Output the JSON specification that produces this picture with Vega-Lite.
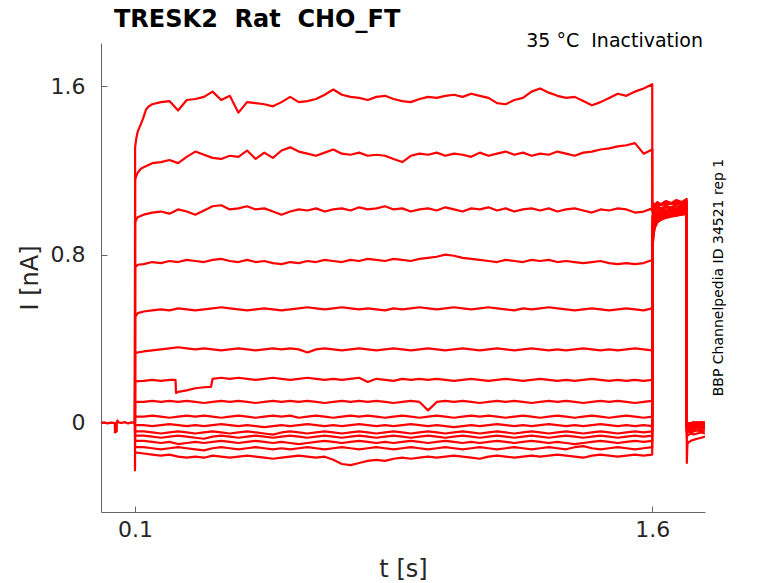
{
  "$schema": "https://vega.github.io/schema/vega-lite/v6.json",
  "width": 604,
  "height": 469,
  "autosize": {"type": "none"},
  "padding": {"left": 101, "top": 43, "right": 73, "bottom": 71},
  "config": {"view": {"stroke": null}, "font": "DejaVu Sans"},
  "layer": [
    {
      "data": {"values": [
        {"t":0.0014,"a":0},{"t":0.01,"a":0.003},{"t":0.02,"a":-0.002},{"t":0.03,"a":0.002},{"t":0.0415,"a":0},{"t":0.042,"a":-0.045},{"t":0.047,"a":-0.04},{"t":0.0473,"a":0.004},{"t":0.049,"a":0.012},{"t":0.052,"a":0.003},{"t":0.06,"a":0},{"t":0.07,"a":0.004},{"t":0.08,"a":-0.002},{"t":0.09,"a":0.003},
        {"t":0.0999,"a":0,"b":0,"c":0,"d":0,"e":0,"f":0,"g":0,"h":0,"i":0,"j":0,"k":0,"l":0,"m":0,"n":0,"o":0},
        {"t":0.1,"o":-0.225},
        {"t":0.1003,"a":1.31,"b":1.157,"c":0.955,"d":0.74,"e":0.505,"f":0.333,"g":0.198,"h":0.1,"i":0.03,"j":-0.01,"k":-0.04,"l":-0.06,"m":-0.085,"n":-0.115,"o":-0.14},
        {"t":0.104,"a":1.355,"b":1.175,"c":0.968},
        {"t":0.108,"a":1.385,"b":1.19,"c":0.978,"d":0.752,"e":0.522},
        {"t":0.113,"a":1.405,"b":1.2},
        {"t":0.118,"a":1.425,"b":1.21,"c":0.985},
        {"t":0.123,"a":1.445},
        {"t":0.132,"a":1.49},
        {"t":0.14,"a":1.505},
        {"t":0.2175,"g":0.205},
        {"t":0.219,"g":0.143},
        {"t":0.3205,"g":0.172},
        {"t":0.125,"a":1.455,"b":1.215,"c":0.99,"d":0.755,"e":0.53,"f":0.34,"g":0.2,"h":0.1,"i":0.03,"j":-0.01,"k":-0.04,"l":-0.06,"m":-0.085,"n":-0.115,"o":-0.145},
        {"t":0.15,"a":1.515,"b":1.235,"c":1.0,"d":0.765,"e":0.535,"f":0.345,"g":0.205,"h":0.105,"i":0.035,"j":-0.015,"k":-0.045,"l":-0.065,"m":-0.09,"n":-0.12,"o":-0.15},
        {"t":0.175,"a":1.525,"b":1.24,"c":1.005,"d":0.76,"e":0.54,"f":0.35,"g":0.2,"h":0.1,"i":0.03,"j":-0.01,"k":-0.05,"l":-0.07,"m":-0.095,"n":-0.125,"o":-0.155},
        {"t":0.2,"a":1.53,"b":1.25,"c":0.995,"d":0.77,"e":0.535,"f":0.355,"g":0.205,"h":0.105,"i":0.025,"j":-0.005,"k":-0.045,"l":-0.065,"m":-0.09,"n":-0.12,"o":-0.15},
        {"t":0.225,"a":1.485,"b":1.235,"c":1.015,"d":0.765,"e":0.545,"f":0.36,"g":0.148,"h":0.1,"i":0.03,"j":-0.01,"k":-0.04,"l":-0.06,"m":-0.1,"n":-0.115,"o":-0.16},
        {"t":0.25,"a":1.535,"b":1.265,"c":1.005,"d":0.775,"e":0.54,"f":0.355,"g":0.155,"h":0.105,"i":0.035,"j":-0.015,"k":-0.045,"l":-0.065,"m":-0.095,"n":-0.12,"o":-0.165},
        {"t":0.275,"a":1.54,"b":1.29,"c":0.99,"d":0.77,"e":0.535,"f":0.35,"g":0.165,"h":0.1,"i":0.03,"j":-0.01,"k":-0.05,"l":-0.07,"m":-0.09,"n":-0.125,"o":-0.16},
        {"t":0.3,"a":1.55,"b":1.275,"c":1.01,"d":0.765,"e":0.54,"f":0.355,"g":0.17,"h":0.095,"i":0.035,"j":-0.015,"k":-0.045,"l":-0.075,"m":-0.095,"n":-0.13,"o":-0.165},
        {"t":0.325,"a":1.575,"b":1.26,"c":1.03,"d":0.775,"e":0.545,"f":0.35,"g":0.21,"h":0.1,"i":0.03,"j":-0.01,"k":-0.04,"l":-0.065,"m":-0.09,"n":-0.12,"o":-0.155},
        {"t":0.35,"a":1.535,"b":1.255,"c":1.035,"d":0.78,"e":0.55,"f":0.345,"g":0.215,"h":0.105,"i":0.025,"j":-0.005,"k":-0.045,"l":-0.06,"m":-0.085,"n":-0.115,"o":-0.16},
        {"t":0.375,"a":1.555,"b":1.27,"c":1.015,"d":0.77,"e":0.545,"f":0.35,"g":0.21,"h":0.1,"i":0.03,"j":-0.01,"k":-0.05,"l":-0.065,"m":-0.09,"n":-0.12,"o":-0.165},
        {"t":0.4,"a":1.475,"b":1.265,"c":1.02,"d":0.765,"e":0.54,"f":0.355,"g":0.215,"h":0.105,"i":0.035,"j":-0.015,"k":-0.045,"l":-0.07,"m":-0.095,"n":-0.125,"o":-0.16},
        {"t":0.425,"a":1.525,"b":1.295,"c":1.03,"d":0.775,"e":0.535,"f":0.35,"g":0.21,"h":0.1,"i":0.03,"j":-0.01,"k":-0.04,"l":-0.065,"m":-0.09,"n":-0.12,"o":-0.155},
        {"t":0.45,"a":1.52,"b":1.255,"c":1.015,"d":0.765,"e":0.54,"f":0.345,"g":0.205,"h":0.095,"i":0.025,"j":-0.015,"k":-0.045,"l":-0.06,"m":-0.085,"n":-0.115,"o":-0.16},
        {"t":0.475,"a":1.515,"b":1.285,"c":1.02,"d":0.77,"e":0.545,"f":0.35,"g":0.21,"h":0.1,"i":0.03,"j":-0.02,"k":-0.05,"l":-0.065,"m":-0.09,"n":-0.12,"o":-0.165},
        {"t":0.5,"a":1.505,"b":1.26,"c":1.005,"d":0.76,"e":0.54,"f":0.355,"g":0.215,"h":0.105,"i":0.035,"j":-0.015,"k":-0.055,"l":-0.07,"m":-0.095,"n":-0.125,"o":-0.17},
        {"t":0.525,"a":1.525,"b":1.295,"c":0.99,"d":0.755,"e":0.535,"f":0.35,"g":0.21,"h":0.1,"i":0.03,"j":-0.01,"k":-0.045,"l":-0.065,"m":-0.09,"n":-0.12,"o":-0.165},
        {"t":0.55,"a":1.55,"b":1.31,"c":1.005,"d":0.765,"e":0.54,"f":0.355,"g":0.205,"h":0.105,"i":0.035,"j":-0.015,"k":-0.04,"l":-0.06,"m":-0.095,"n":-0.125,"o":-0.16},
        {"t":0.575,"a":1.525,"b":1.29,"c":1.015,"d":0.76,"e":0.545,"f":0.35,"g":0.21,"h":0.1,"i":0.025,"j":-0.01,"k":-0.045,"l":-0.065,"m":-0.1,"n":-0.12,"o":-0.155},
        {"t":0.6,"a":1.53,"b":1.28,"c":1.01,"d":0.77,"e":0.55,"f":0.335,"g":0.215,"h":0.105,"i":0.03,"j":-0.005,"k":-0.05,"l":-0.07,"m":-0.095,"n":-0.115,"o":-0.16},
        {"t":0.625,"a":1.54,"b":1.27,"c":1.02,"d":0.765,"e":0.545,"f":0.35,"g":0.21,"h":0.1,"i":0.035,"j":-0.01,"k":-0.045,"l":-0.065,"m":-0.09,"n":-0.12,"o":-0.165},
        {"t":0.65,"a":1.56,"b":1.285,"c":1.005,"d":0.775,"e":0.54,"f":0.355,"g":0.205,"h":0.095,"i":0.03,"j":-0.015,"k":-0.04,"l":-0.06,"m":-0.085,"n":-0.125,"o":-0.16},
        {"t":0.675,"a":1.585,"b":1.3,"c":1.015,"d":0.77,"e":0.545,"f":0.35,"g":0.21,"h":0.1,"i":0.025,"j":-0.01,"k":-0.045,"l":-0.065,"m":-0.09,"n":-0.12,"o":-0.175},
        {"t":0.7,"a":1.56,"b":1.28,"c":1.02,"d":0.765,"e":0.55,"f":0.345,"g":0.205,"h":0.105,"i":0.03,"j":-0.015,"k":-0.05,"l":-0.07,"m":-0.095,"n":-0.115,"o":-0.195},
        {"t":0.725,"a":1.55,"b":1.275,"c":1.01,"d":0.775,"e":0.545,"f":0.35,"g":0.21,"h":0.1,"i":0.035,"j":-0.01,"k":-0.045,"l":-0.065,"m":-0.09,"n":-0.12,"o":-0.2},
        {"t":0.75,"a":1.545,"b":1.285,"c":1.025,"d":0.77,"e":0.54,"f":0.355,"g":0.215,"h":0.105,"i":0.03,"j":-0.005,"k":-0.04,"l":-0.06,"m":-0.085,"n":-0.125,"o":-0.19},
        {"t":0.775,"a":1.535,"b":1.27,"c":1.015,"d":0.78,"e":0.545,"f":0.35,"g":0.195,"h":0.1,"i":0.035,"j":-0.01,"k":-0.045,"l":-0.065,"m":-0.09,"n":-0.12,"o":-0.18},
        {"t":0.8,"a":1.55,"b":1.275,"c":1.02,"d":0.775,"e":0.54,"f":0.345,"g":0.21,"h":0.105,"i":0.03,"j":-0.015,"k":-0.05,"l":-0.07,"m":-0.095,"n":-0.115,"o":-0.175},
        {"t":0.825,"a":1.555,"b":1.27,"c":1.03,"d":0.77,"e":0.535,"f":0.35,"g":0.205,"h":0.1,"i":0.025,"j":-0.01,"k":-0.045,"l":-0.065,"m":-0.09,"n":-0.12,"o":-0.18},
        {"t":0.85,"a":1.54,"b":1.255,"c":1.015,"d":0.78,"e":0.545,"f":0.355,"g":0.2,"h":0.095,"i":0.03,"j":-0.015,"k":-0.04,"l":-0.06,"m":-0.095,"n":-0.125,"o":-0.17},
        {"t":0.875,"a":1.53,"b":1.24,"c":1.02,"d":0.775,"e":0.54,"f":0.35,"g":0.21,"h":0.1,"i":0.035,"j":-0.01,"k":-0.045,"l":-0.065,"m":-0.09,"n":-0.12,"o":-0.165},
        {"t":0.9,"a":1.525,"b":1.27,"c":1.005,"d":0.77,"e":0.545,"f":0.345,"g":0.205,"h":0.105,"i":0.03,"j":-0.005,"k":-0.05,"l":-0.07,"m":-0.085,"n":-0.115,"o":-0.17},
        {"t":0.925,"a":1.54,"b":1.28,"c":1.015,"d":0.78,"e":0.55,"f":0.35,"g":0.21,"h":0.1,"i":0.025,"j":-0.01,"k":-0.045,"l":-0.065,"m":-0.09,"n":-0.12,"o":-0.165},
        {"t":0.95,"a":1.55,"b":1.275,"c":1.02,"d":0.785,"e":0.545,"f":0.355,"g":0.205,"h":0.06,"i":0.03,"j":-0.015,"k":-0.04,"l":-0.06,"m":-0.095,"n":-0.125,"o":-0.16},
        {"t":0.975,"a":1.545,"b":1.285,"c":1.01,"d":0.79,"e":0.54,"f":0.35,"g":0.21,"h":0.1,"i":0.035,"j":-0.01,"k":-0.045,"l":-0.065,"m":-0.09,"n":-0.12,"o":-0.165},
        {"t":1.0,"a":1.555,"b":1.27,"c":1.025,"d":0.8,"e":0.545,"f":0.345,"g":0.205,"h":0.105,"i":0.03,"j":-0.015,"k":-0.05,"l":-0.07,"m":-0.085,"n":-0.115,"o":-0.16},
        {"t":1.025,"a":1.56,"b":1.28,"c":1.015,"d":0.795,"e":0.55,"f":0.35,"g":0.2,"h":0.1,"i":0.025,"j":-0.02,"k":-0.045,"l":-0.065,"m":-0.09,"n":-0.12,"o":-0.155},
        {"t":1.05,"a":1.55,"b":1.275,"c":1.005,"d":0.785,"e":0.545,"f":0.355,"g":0.205,"h":0.105,"i":0.03,"j":-0.015,"k":-0.04,"l":-0.06,"m":-0.095,"n":-0.125,"o":-0.16},
        {"t":1.075,"a":1.565,"b":1.265,"c":1.02,"d":0.78,"e":0.54,"f":0.35,"g":0.21,"h":0.1,"i":0.035,"j":-0.01,"k":-0.045,"l":-0.065,"m":-0.09,"n":-0.12,"o":-0.165},
        {"t":1.1,"a":1.555,"b":1.285,"c":1.015,"d":0.775,"e":0.545,"f":0.345,"g":0.205,"h":0.095,"i":0.03,"j":-0.015,"k":-0.05,"l":-0.07,"m":-0.095,"n":-0.115,"o":-0.17},
        {"t":1.125,"a":1.545,"b":1.27,"c":1.025,"d":0.77,"e":0.55,"f":0.35,"g":0.2,"h":0.1,"i":0.035,"j":-0.01,"k":-0.045,"l":-0.065,"m":-0.09,"n":-0.12,"o":-0.16},
        {"t":1.15,"a":1.52,"b":1.28,"c":1.01,"d":0.765,"e":0.545,"f":0.355,"g":0.205,"h":0.105,"i":0.03,"j":-0.005,"k":-0.04,"l":-0.06,"m":-0.085,"n":-0.125,"o":-0.155},
        {"t":1.175,"a":1.515,"b":1.29,"c":1.02,"d":0.775,"e":0.54,"f":0.35,"g":0.21,"h":0.1,"i":0.025,"j":-0.01,"k":-0.045,"l":-0.065,"m":-0.09,"n":-0.12,"o":-0.16},
        {"t":1.2,"a":1.535,"b":1.275,"c":1.005,"d":0.77,"e":0.535,"f":0.345,"g":0.205,"h":0.105,"i":0.03,"j":-0.015,"k":-0.05,"l":-0.07,"m":-0.095,"n":-0.115,"o":-0.165},
        {"t":1.225,"a":1.545,"b":1.285,"c":1.015,"d":0.765,"e":0.545,"f":0.35,"g":0.2,"h":0.1,"i":0.035,"j":-0.01,"k":-0.045,"l":-0.065,"m":-0.09,"n":-0.12,"o":-0.16},
        {"t":1.25,"a":1.575,"b":1.27,"c":1.02,"d":0.775,"e":0.54,"f":0.355,"g":0.205,"h":0.095,"i":0.03,"j":-0.015,"k":-0.04,"l":-0.06,"m":-0.085,"n":-0.125,"o":-0.155},
        {"t":1.275,"a":1.59,"b":1.28,"c":1.01,"d":0.77,"e":0.545,"f":0.35,"g":0.21,"h":0.1,"i":0.025,"j":-0.01,"k":-0.045,"l":-0.065,"m":-0.09,"n":-0.12,"o":-0.16},
        {"t":1.3,"a":1.57,"b":1.275,"c":1.02,"d":0.775,"e":0.55,"f":0.345,"g":0.205,"h":0.105,"i":0.03,"j":-0.005,"k":-0.05,"l":-0.07,"m":-0.095,"n":-0.115,"o":-0.155},
        {"t":1.325,"a":1.555,"b":1.29,"c":1.005,"d":0.765,"e":0.545,"f":0.35,"g":0.2,"h":0.1,"i":0.035,"j":-0.01,"k":-0.045,"l":-0.065,"m":-0.09,"n":-0.12,"o":-0.15},
        {"t":1.35,"a":1.545,"b":1.28,"c":1.015,"d":0.77,"e":0.54,"f":0.345,"g":0.205,"h":0.105,"i":0.03,"j":-0.015,"k":-0.04,"l":-0.06,"m":-0.095,"n":-0.125,"o":-0.155},
        {"t":1.375,"a":1.55,"b":1.27,"c":1.02,"d":0.765,"e":0.535,"f":0.35,"g":0.2,"h":0.1,"i":0.025,"j":-0.01,"k":-0.045,"l":-0.065,"m":-0.1,"n":-0.115,"o":-0.16},
        {"t":1.4,"a":1.53,"b":1.285,"c":1.01,"d":0.76,"e":0.54,"f":0.355,"g":0.205,"h":0.095,"i":0.03,"j":-0.015,"k":-0.05,"l":-0.07,"m":-0.095,"n":-0.11,"o":-0.165},
        {"t":1.425,"a":1.51,"b":1.29,"c":1.0,"d":0.765,"e":0.545,"f":0.35,"g":0.21,"h":0.1,"i":0.035,"j":-0.01,"k":-0.045,"l":-0.065,"m":-0.09,"n":-0.12,"o":-0.155},
        {"t":1.45,"a":1.525,"b":1.3,"c":1.015,"d":0.77,"e":0.54,"f":0.345,"g":0.205,"h":0.105,"i":0.03,"j":-0.005,"k":-0.04,"l":-0.06,"m":-0.085,"n":-0.125,"o":-0.15},
        {"t":1.475,"a":1.545,"b":1.305,"c":1.01,"d":0.76,"e":0.535,"f":0.35,"g":0.2,"h":0.1,"i":0.025,"j":-0.01,"k":-0.045,"l":-0.065,"m":-0.09,"n":-0.12,"o":-0.155},
        {"t":1.5,"a":1.565,"b":1.315,"c":1.02,"d":0.755,"e":0.54,"f":0.345,"g":0.205,"h":0.105,"i":0.03,"j":-0.015,"k":-0.05,"l":-0.07,"m":-0.095,"n":-0.115,"o":-0.16},
        {"t":1.525,"a":1.555,"b":1.32,"c":1.015,"d":0.76,"e":0.545,"f":0.35,"g":0.2,"h":0.1,"i":0.035,"j":-0.01,"k":-0.045,"l":-0.065,"m":-0.09,"n":-0.12,"o":-0.155},
        {"t":1.55,"a":1.575,"b":1.33,"c":1.0,"d":0.755,"e":0.54,"f":0.355,"g":0.205,"h":0.095,"i":0.03,"j":-0.015,"k":-0.04,"l":-0.06,"m":-0.085,"n":-0.125,"o":-0.15},
        {"t":1.575,"a":1.59,"b":1.28,"c":1.005,"d":0.76,"e":0.535,"f":0.35,"g":0.2,"h":0.1,"i":0.025,"j":-0.01,"k":-0.045,"l":-0.065,"m":-0.09,"n":-0.12,"o":-0.155},
        {"t":1.6,"a":1.61,"b":1.3,"c":1.02,"d":0.775,"e":0.545,"f":0.345,"g":0.205,"h":0.105,"i":0.03,"j":-0.015,"k":-0.04,"l":-0.06,"m":-0.085,"n":-0.115,"o":-0.15},
        {"t":1.6003,"a":1.03,"b":1.02,"c":1.0,"d":0.98,"e":0.95,"f":0.92,"g":0.9,"h":0.88,"i":0.86,"j":0.85,"k":0.84,"l":0.83,"m":0.82,"n":0.81,"o":0.8},
        {"t":1.603,"a":1.045,"b":1.035,"c":1.02,"d":1.005,"e":0.985,"f":0.96,"g":0.945,"h":0.93,"i":0.92,"j":0.91,"k":0.905,"l":0.9,"m":0.895,"n":0.89,"o":0.885},
        {"t":1.607,"a":1.035,"b":1.03,"c":1.03,"d":1.015,"e":1.0,"f":0.99,"g":0.975,"h":0.965,"i":0.955,"j":0.95,"k":0.945,"l":0.94,"m":0.935,"n":0.93,"o":0.925},
        {"t":1.615,"a":1.05,"b":1.04,"c":1.025,"d":1.025,"e":1.015,"f":1.0,"g":0.995,"h":0.985,"i":0.98,"j":0.975,"k":0.97,"l":0.965,"m":0.96,"n":0.955,"o":0.955},
        {"t":1.625,"a":1.04,"b":1.035,"c":1.04,"d":1.02,"e":1.01,"f":1.015,"g":1.0,"h":1.0,"i":0.99,"j":0.985,"k":0.985,"l":0.98,"m":0.975,"n":0.97,"o":0.965},
        {"t":1.64,"a":1.055,"b":1.045,"c":1.035,"d":1.03,"e":1.025,"f":1.01,"g":1.01,"h":0.995,"i":1.0,"j":0.995,"k":0.99,"l":0.985,"m":0.98,"n":0.98,"o":0.975},
        {"t":1.655,"a":1.045,"b":1.04,"c":1.045,"d":1.025,"e":1.02,"f":1.02,"g":1.005,"h":1.01,"i":0.995,"j":1.0,"k":0.995,"l":0.99,"m":0.99,"n":0.985,"o":0.98},
        {"t":1.67,"a":1.06,"b":1.05,"c":1.04,"d":1.04,"e":1.03,"f":1.015,"g":1.02,"h":1.005,"i":1.01,"j":0.995,"k":1.0,"l":0.995,"m":0.985,"n":0.99,"o":0.985},
        {"t":1.685,"a":1.05,"b":1.045,"c":1.05,"d":1.035,"e":1.025,"f":1.03,"g":1.015,"h":1.02,"i":1.005,"j":1.01,"k":1.0,"l":1.0,"m":0.995,"n":0.99,"o":0.99},
        {"t":1.6997,"a":1.065,"b":1.055,"c":1.045,"d":1.045,"e":1.04,"f":1.025,"g":1.03,"h":1.015,"i":1.02,"j":1.005,"k":1.01,"l":1.0,"m":1.0,"n":0.995,"o":0.995},
        {"t":1.7003,"a":-0.19,"b":-0.07,"c":-0.05,"d":-0.04,"e":-0.035,"f":-0.03,"g":-0.03,"h":-0.025,"i":-0.025,"j":-0.02,"k":-0.02,"l":-0.015,"m":-0.015,"n":-0.01,"o":-0.01},
        {"t":1.702,"a":-0.1,"b":-0.06,"c":-0.045,"d":-0.035,"e":-0.03,"f":-0.025,"g":-0.02,"h":-0.02,"i":-0.015,"j":-0.015,"k":-0.01,"l":-0.01,"m":-0.005,"n":-0.005,"o":0},
        {"t":1.706,"a":-0.09,"b":-0.055,"c":-0.04,"d":-0.03,"e":-0.025,"f":-0.02,"g":-0.025,"h":-0.015,"i":-0.02,"j":-0.01,"k":-0.015,"l":-0.005,"m":-0.01,"n":0,"o":-0.005},
        {"t":1.712,"a":-0.085,"b":-0.05,"c":-0.045,"d":-0.035,"e":-0.03,"f":-0.025,"g":-0.02,"h":-0.02,"i":-0.015,"j":-0.015,"k":-0.01,"l":-0.01,"m":-0.005,"n":-0.005,"o":0},
        {"t":1.72,"a":-0.08,"b":-0.055,"c":-0.04,"d":-0.03,"e":-0.025,"f":-0.02,"g":-0.015,"h":-0.015,"i":-0.01,"j":-0.01,"k":-0.005,"l":-0.005,"m":0,"n":0,"o":0.005},
        {"t":1.73,"a":-0.075,"b":-0.05,"c":-0.035,"d":-0.025,"e":-0.02,"f":-0.015,"g":-0.02,"h":-0.01,"i":-0.015,"j":-0.005,"k":-0.01,"l":0,"m":-0.005,"n":0.005,"o":0},
        {"t":1.742,"a":-0.07,"b":-0.045,"c":-0.04,"d":-0.03,"e":-0.025,"f":-0.02,"g":-0.015,"h":-0.015,"i":-0.01,"j":-0.01,"k":-0.005,"l":-0.005,"m":0,"n":0,"o":0.005},
        {"t":1.753,"a":-0.065,"b":-0.05,"c":-0.035,"d":-0.025,"e":-0.02,"f":-0.015,"g":-0.02,"h":-0.01,"i":-0.015,"j":-0.005,"k":-0.01,"l":0,"m":-0.005,"n":0.005,"o":0}
      ]},
      "transform": [
        {"fold": ["a","b","c","d","e","f","g","h","i","j","k","l","m","n","o"], "as": ["trace","I"]},
        {"filter": "isValid(datum.I)"}
      ],
      "mark": {"type": "line", "color": "#ff0000", "strokeWidth": 2.2, "strokeJoin": "round", "clip": true},
      "encoding": {
        "x": {
          "field": "t", "type": "quantitative",
          "scale": {"domain": [0.0014, 1.753], "nice": false, "zero": false},
          "axis": {"values": [0.1, 1.6], "format": "~g", "title": "t [s]", "grid": false,
                   "tickSize": -6, "labelPadding": 13, "labelFontSize": 22, "titleFontSize": 24,
                   "titleFontWeight": "normal", "labelColor": "#262626", "titleColor": "#262626",
                   "domainColor": "#666666", "tickColor": "#666666", "labelFlush": false, "labelOverlap": false, "titlePadding": 17}
        },
        "y": {
          "field": "I", "type": "quantitative",
          "scale": {"domain": [-0.423, 1.806], "nice": false, "zero": false},
          "axis": {"values": [0, 0.8, 1.6], "format": "~g", "title": "I [nA]", "grid": false,
                   "tickSize": -6, "labelPadding": 22, "labelFontSize": 22, "titleFontSize": 24,
                   "titleFontWeight": "normal", "labelColor": "#262626", "titleColor": "#262626",
                   "domainColor": "#666666", "tickColor": "#666666", "labelFlush": false, "labelOverlap": false, "titlePadding": 8}
        },
        "detail": {"field": "trace", "type": "nominal"}
      }
    },
    {
      "data": {"values": [{"label": "TRESK2\u00a0 Rat\u00a0 CHO_FT"}]},
      "mark": {"type": "text", "align": "left", "baseline": "alphabetic", "fontSize": 24, "fontWeight": "bold", "dx": 13, "dy": -16, "color": "#000000"},
      "encoding": {"x": {"datum": 0.0014}, "y": {"datum": 1.806}, "text": {"field": "label"}}
    },
    {
      "data": {"values": [{"label": "35 °C\u00a0 Inactivation"}]},
      "mark": {"type": "text", "align": "right", "baseline": "alphabetic", "fontSize": 19, "dx": -2, "dy": 4, "color": "#000000"},
      "encoding": {"x": {"datum": 1.753}, "y": {"datum": 1.806}, "text": {"field": "label"}}
    },
    {
      "data": {"values": [{"label": "BBP Channelpedia ID 34521 rep 1"}]},
      "mark": {"type": "text", "angle": 270, "align": "center", "baseline": "alphabetic", "fontSize": 14, "dy": 18, "color": "#000000"},
      "encoding": {"x": {"datum": 1.753}, "y": {"datum": 0.6915}, "text": {"field": "label"}}
    }
  ]
}
